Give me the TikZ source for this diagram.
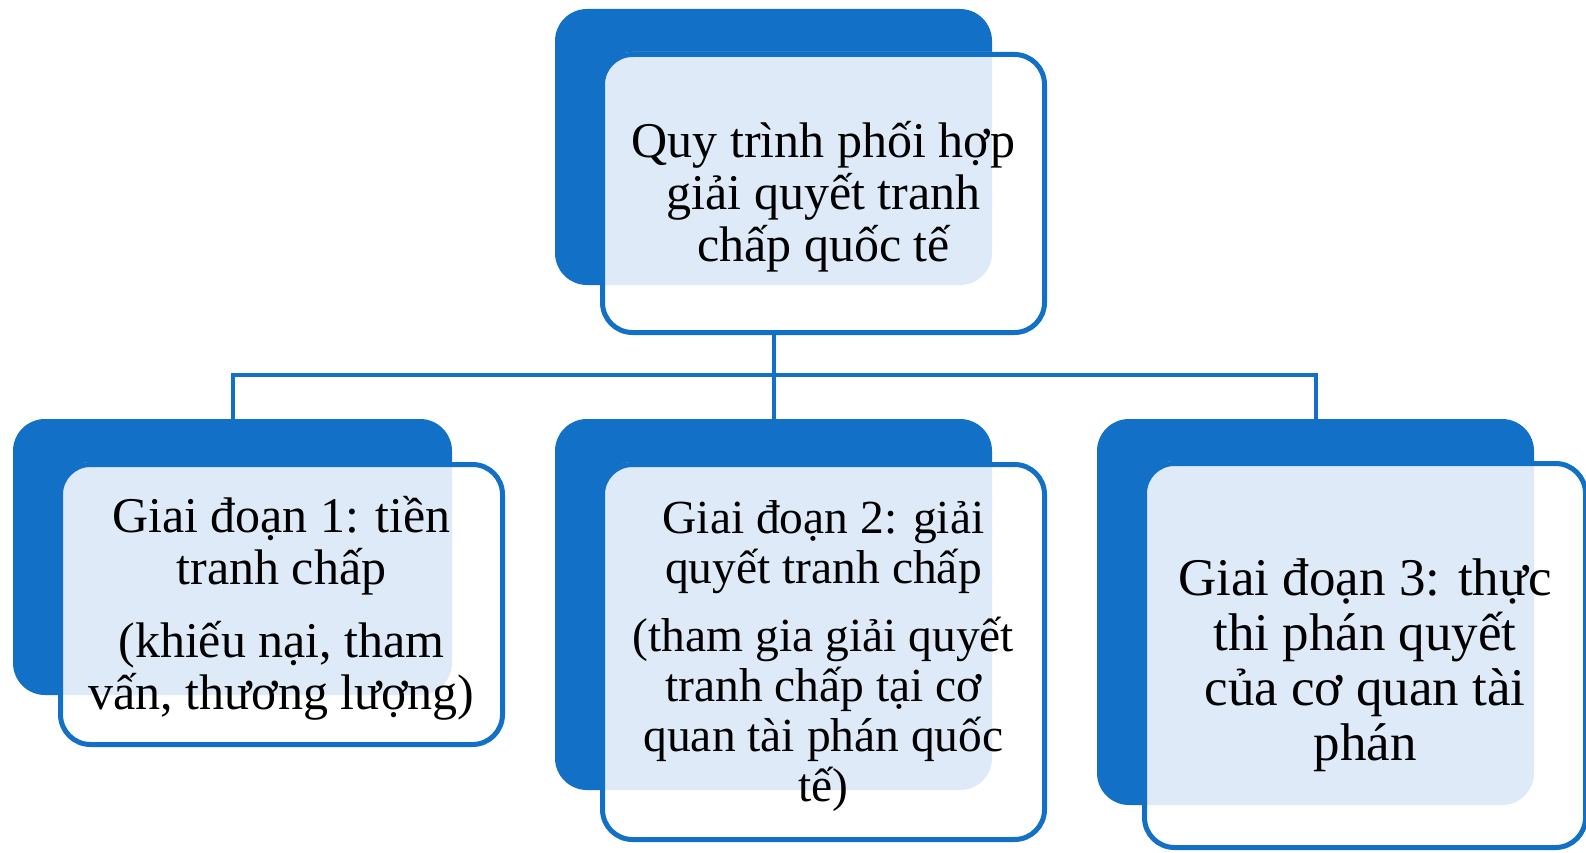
\documentclass[tikz,border=0pt]{standalone}
\usepackage{fontspec}
\setmainfont{Liberation Serif}
\definecolor{dblue}{RGB}{18,112,198}
\definecolor{lpat}{RGB}{222,234,247}
\pgfdeclarelayer{bg}
\pgfsetlayers{bg,main}
\tikzset{
  backbox/.style={rectangle, rounded corners=32pt, fill=dblue, draw=none, inner sep=0pt, outer sep=0pt},
  frontbox/.style={rectangle, rounded corners=30pt, fill=white, draw=none, inner sep=0pt, outer sep=0pt},
  frontline/.style={draw=dblue, line width=5pt, rounded corners=30pt},
  patfill/.style={fill=lpat, rounded corners=32pt},
  conn/.style={draw=dblue, line width=4pt},
  txt/.style={align=center, inner sep=0pt, text=black},
}
\newcommand{\fsA}{\fontsize{50}{52}\selectfont}
\newcommand{\fsB}{\fontsize{47.5}{50}\selectfont}
\newcommand{\fsC}{\fontsize{53}{55}\selectfont}
\begin{document}
\begin{tikzpicture}[x=1pt,y=-1pt]
\clip (0,0) rectangle (1586,853);
\useasboundingbox (0,0) rectangle (1586,853);
% back boxes
\node[backbox, minimum width=437pt, minimum height=276pt] (b0) at (773.5,147) {};
\node[backbox, minimum width=439pt, minimum height=276pt] (b1) at (232.5,557) {};
\node[backbox, minimum width=437pt, minimum height=371pt] (b2) at (773.5,604.5) {};
\node[backbox, minimum width=437pt, minimum height=386pt] (b3) at (1315.5,612) {};
% front boxes
\node[frontbox, minimum width=442pt, minimum height=278pt] (f0) at (823.5,193.5) {};
\node[frontbox, minimum width=442pt, minimum height=280pt] (f1) at (281.5,604.5) {};
\node[frontbox, minimum width=442pt, minimum height=375pt] (f2) at (823.5,652) {};
\node[frontbox, minimum width=441pt, minimum height=384pt] (f3) at (1365,655.5) {};
% tinted overlap of front and back boxes
\foreach \i in {0,1,2,3}{
  \begin{scope}
    \clip[rounded corners=27.5pt] ([shift={(2.5pt,2.5pt)}]f\i.north west) rectangle ([shift={(-2.5pt,-2.5pt)}]f\i.south east);
    \fill[patfill] (b\i.north west) rectangle (b\i.south east);
  \end{scope}
  \draw[frontline] (f\i.north west) rectangle (f\i.south east);
}
% connectors
\coordinate (hub) at (773.5,375);
\begin{pgfonlayer}{bg}
\draw[conn] (b0.south) -- (hub);
\draw[conn] (hub) -| (b1.north);
\draw[conn] (hub) -| (b3.north);
\draw[conn] (hub) -- (b2.north);
\end{pgfonlayer}
% texts
\node[txt, font=\fsA] (t0) at (823.5,197) {Quy trình phối hợp\\giải quyết tranh\\chấp quốc tế};
\node[txt, font=\fsA] (t1) at (281.5,608) {Giai đoạn 1: tiền\\tranh chấp\\[21pt](khiếu nại, tham\\vấn, thương lượng)};
\node[txt, font=\fsB] (t2) at (823.5,656) {Giai đoạn 2: giải\\quyết tranh chấp\\[18pt](tham gia giải quyết\\tranh chấp tại cơ\\quan tài phán quốc\\tế)};
\node[txt, font=\fsC] (t3) at (1365,665) {Giai đoạn 3: thực\\thi phán quyết\\của cơ quan tài\\phán};
\end{tikzpicture}
\end{document}
